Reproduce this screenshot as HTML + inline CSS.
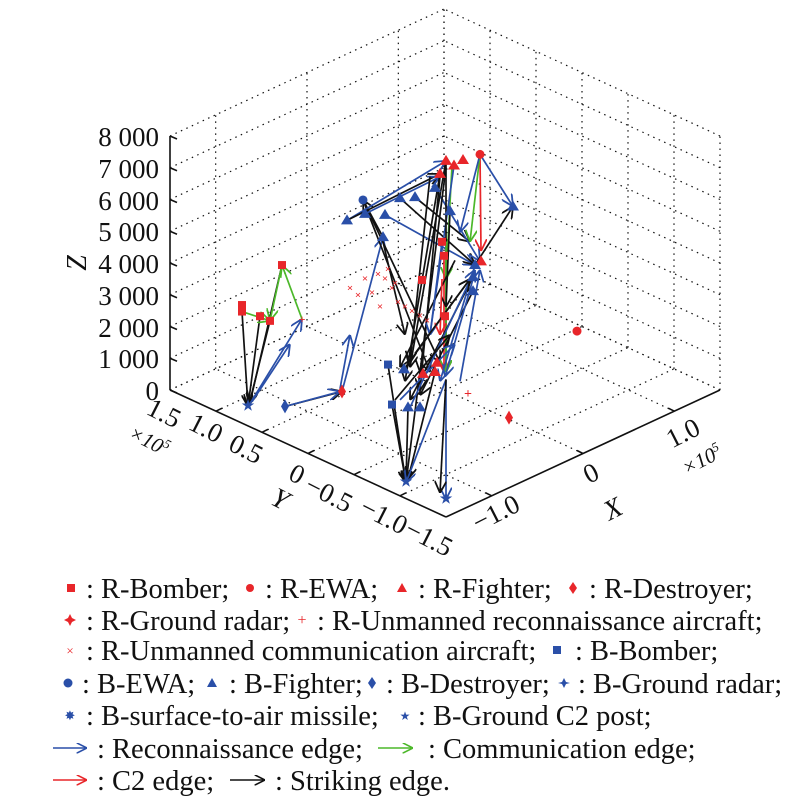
<!DOCTYPE html>
<html><head><meta charset="utf-8"><style>
html,body{margin:0;padding:0;background:#fff;}
svg{display:block;font-family:"Liberation Serif",serif;}
</style></head><body>
<svg id="s" width="800" height="796" viewBox="0 0 800 796" xmlns="http://www.w3.org/2000/svg">
<defs>
<marker id="ab" viewBox="0 0 10 10" refX="10" refY="5" markerWidth="7" markerHeight="7" orient="auto"><path d="M0,0L10,5L0,10" fill="none" stroke="#2a4fa8" stroke-width="1.5"/></marker>
<marker id="ak" viewBox="0 0 10 10" refX="10" refY="5" markerWidth="7" markerHeight="7" orient="auto"><path d="M0,0L10,5L0,10" fill="none" stroke="#111" stroke-width="1.5"/></marker>
<marker id="ag" viewBox="0 0 10 10" refX="10" refY="5" markerWidth="7" markerHeight="7" orient="auto"><path d="M0,0L10,5L0,10" fill="none" stroke="#4cb82a" stroke-width="1.5"/></marker>
<marker id="ar" viewBox="0 0 10 10" refX="10" refY="5" markerWidth="7" markerHeight="7" orient="auto"><path d="M0,0L10,5L0,10" fill="none" stroke="#e8262a" stroke-width="1.5"/></marker>
</defs>
<g id="grid"></g>
<g id="data"></g>
<g font-size="27" fill="#111">
<text x="159" y="146" text-anchor="end">8 000</text>
<text x="159" y="178" text-anchor="end">7 000</text>
<text x="159" y="210" text-anchor="end">6 000</text>
<text x="159" y="241" text-anchor="end">5 000</text>
<text x="159" y="273" text-anchor="end">4 000</text>
<text x="159" y="305" text-anchor="end">3 000</text>
<text x="159" y="337" text-anchor="end">2 000</text>
<text x="159" y="368" text-anchor="end">1 000</text>
<text x="159" y="400" text-anchor="end">0</text>
<text transform="translate(86,263) rotate(-90)" text-anchor="middle" font-style="italic" font-size="28">Z</text>
<text transform="translate(160,421) rotate(27)" text-anchor="middle">1.5</text>
<text transform="translate(202,436) rotate(27)" text-anchor="middle">1.0</text>
<text transform="translate(242,457) rotate(27)" text-anchor="middle">0.5</text>
<text transform="translate(293,482) rotate(27)" text-anchor="middle">0</text>
<text transform="translate(325,502) rotate(27)" text-anchor="middle">−0.5</text>
<text transform="translate(380,524) rotate(27)" text-anchor="middle">−1.0</text>
<text transform="translate(425,546) rotate(27)" text-anchor="middle">−1.5</text>
<text transform="translate(146,447) rotate(27)" text-anchor="middle" font-size="21" font-style="italic">×10<tspan font-size="13" dy="-8">5</tspan></text>
<text transform="translate(276,507) rotate(27)" text-anchor="middle" font-style="italic" font-size="28">Y</text>
<text transform="translate(500,521) rotate(-27)" text-anchor="middle">−1.0</text>
<text transform="translate(595,481) rotate(-27)" text-anchor="middle">0</text>
<text transform="translate(687,441) rotate(-27)" text-anchor="middle">1.0</text>
<text transform="translate(705,466) rotate(-27)" text-anchor="middle" font-size="21" font-style="italic">×10<tspan font-size="13" dy="-8">5</tspan></text>
<text transform="translate(617,517) rotate(-27)" text-anchor="middle" font-style="italic" font-size="28">X</text>
</g>
<g font-size="28.5" fill="#111" id="leg">
<rect x="67" y="584" width="8" height="8" fill="#e8262a"/>
<text x="86" y="598">: R-Bomber;</text>
<circle cx="250" cy="588" r="4" fill="#e8262a"/>
<text x="265" y="598">: R-EWA;</text>
<path d="M402,583L407,592L397,592Z" fill="#e8262a"/>
<text x="418" y="598">: R-Fighter;</text>
<path d="M573,582L577,588L573,594L569,588Z" fill="#e8262a"/>
<text x="589" y="598">: R-Destroyer;</text>

<path d="M70,614L72,618L76,620L72,622L70,626L68,622L64,620L68,618Z" fill="#e8262a"/>
<text x="86" y="630">: R-Ground radar;</text>
<text x="302" y="625" fill="#e8262a" font-size="16" text-anchor="middle">+</text>
<text x="317" y="630">: R-Unmanned reconnaissance aircraft;</text>

<text x="70" y="655" fill="#e8262a" font-size="13" text-anchor="middle">×</text>
<text x="86" y="660">: R-Unmanned communication aircraft;</text>
<rect x="553" y="646" width="8" height="8" fill="#2a4fa8"/>
<text x="575" y="660">: B-Bomber;</text>

<circle cx="68" cy="683" r="4.5" fill="#2a4fa8"/>
<text x="82" y="693">: B-EWA;</text>
<path d="M212,678L217,687L207,687Z" fill="#2a4fa8"/>
<text x="229" y="693">: B-Fighter;</text>
<path d="M372,677L376,683L372,689L368,683Z" fill="#2a4fa8"/>
<text x="386" y="693">: B-Destroyer;</text>
<path d="M564,678L566,682L570,683L566,684L564,688L562,684L558,683L562,682Z" fill="#2a4fa8"/>
<text x="578" y="693">: B-Ground radar;</text>

<text x="70" y="720" fill="#2a4fa8" font-size="13" text-anchor="middle">✸</text>
<text x="86" y="725">: B-surface-to-air missile;</text>
<text x="405" y="720" fill="#2a4fa8" font-size="12" text-anchor="middle">★</text>
<text x="418" y="725">: B-Ground C2 post;</text>

<line x1="53" y1="748" x2="87" y2="748" stroke="#2a4fa8" stroke-width="1.5" marker-end="url(#ab)"/>
<text x="97" y="758">: Reconnaissance edge;</text>
<line x1="378" y1="748" x2="413" y2="748" stroke="#4cb82a" stroke-width="1.5" marker-end="url(#ag)"/>
<text x="428" y="758">: Communication edge;</text>

<line x1="53" y1="780" x2="87" y2="780" stroke="#e8262a" stroke-width="1.5" marker-end="url(#ar)"/>
<text x="97" y="790">: C2 edge;</text>
<line x1="230" y1="780" x2="265" y2="780" stroke="#111" stroke-width="1.5" marker-end="url(#ak)"/>
<text x="275" y="790">: Striking edge.</text>
</g>
</svg>
<script>
var NS="http://www.w3.org/2000/svg";
function el(p,t,a){var e=document.createElementNS(NS,t);for(var k in a)e.setAttribute(k,a[k]);p.appendChild(e);return e;}
var O=[446,517],X=[274,-127],Y=[-276,-127],Z=[0,-254];
function P(a,b,c){return [O[0]+a*X[0]+b*Y[0]+c*Z[0],O[1]+a*X[1]+b*Y[1]+c*Z[1]];}
var g=document.getElementById('grid');
function L(p,q,dot,w){el(g,'line',{x1:p[0],y1:p[1],x2:q[0],y2:q[1],stroke:'#111','stroke-width':w||1.2,'stroke-dasharray':dot?'1.5,4.5':''});}
var xt=[1/6,0.5,5/6,1],yt=[1/6,2/6,3/6,4/6,5/6,1];
xt.forEach(function(a){L(P(a,0,0),P(a,1,0),1);});
yt.forEach(function(b){L(P(0,b,0),P(1,b,0),1);});
for(var i=1;i<=8;i++){var c=i/8;L(P(0,1,c),P(1,1,c),1);L(P(1,0,c),P(1,1,c),1);}
L(P(1,0,0),P(1,1,0),1);L(P(0,1,0),P(1,1,0),1);
xt.forEach(function(a){L(P(a,1,0),P(a,1,1),1);});
[0].concat(yt).forEach(function(b){L(P(1,b,0),P(1,b,1),1);});
L(P(0,1,0),P(0,0,0),0,1.6);L(P(0,0,0),P(1,0,0),0,1.6);L(P(0,1,0),P(0,1,1),0,1.6);
for(var i=0;i<=8;i++){var p=P(0,1,i/8);L(p,[p[0]+7,p[1]+3],0,1.6);}
[1/6,2/6,3/6,4/6,5/6].forEach(function(b){var p=P(0,b,0);L(p,[p[0]+6,p[1]-3],0,1.6);});
[1/6,0.5,5/6].forEach(function(a){var p=P(a,0,0);L(p,[p[0]-6,p[1]-3],0,1.6);});
var d=document.getElementById('data');
var C={b:'#2a4fa8',k:'#111',g:'#4cb82a',r:'#e8262a'};
var S=0.93;
var E=[
['k',242,335,248,437],['k',260,340,248,437],['k',270,345,249,435],['k',282,285,250,433],['b',250,434,302,343],['b',252,432,290,370],
['g',302,343,282,285],['g',282,285,270,345],['g',242,335,270,345],['k',285,437,342,421],['b',285,437,340,421],
['b',342,421,383,255],['b',340,418,350,360],['k',383,255,363,215],['k',363,215,430,400],['k',363,215,440,390],
['b',347,237,446,173],['k',347,237,440,187],['b',365,230,440,190],['b',385,231,475,285],['k',400,213,475,285],
['k',415,212,470,260],['b',435,202,480,281],['k',446,173,410,395],['k',440,187,405,410],['k',446,180,420,400],
['g',452,178,446,300],['b',454,178,430,360],['r',480,166,481,270],['g',480,166,470,260],['b',480,166,513,222],
['k',475,285,513,222],['b',480,166,460,250],['k',446,173,446,400],['r',444,275,444,400],['g',446,260,446,400],
['k',388,392,406,519],['k',392,435,406,519],['k',408,438,406,519],['k',420,400,406,519],['k',435,400,408,515],
['b',446,408,406,519],['b',446,408,446,537],['k',446,408,440,530],['k',473,298,410,430],['k',473,313,420,425],
['b',475,285,440,410],['b',473,300,445,405],['k',455,280,400,395],['k',440,190,420,420],['k',450,227,446,330],
['b',410,438,475,290],['k',404,397,470,300],['k',430,190,410,390],['b',442,260,430,360],['r',442,300,440,360],
['k',415,380,470,300],['b',460,410,480,290],['k',395,430,450,360],['b',400,430,455,370],['k',383,260,405,360]
];
E.forEach(function(e){el(d,'line',{x1:e[1],y1:e[2]*S,x2:e[3],y2:e[4]*S,stroke:C[e[0]],'stroke-width':1.7,'marker-end':'url(#a'+e[0]+')'});});
function tri(x,y,c){y*=S;el(d,'path',{d:'M'+x+','+(y-6)+'L'+(x+6)+','+(y+4)+'L'+(x-6)+','+(y+4)+'Z',fill:c});}
function sq(x,y,c){y*=S;el(d,'rect',{x:x-4,y:y-4,width:8,height:8,fill:c});}
function ci(x,y,c){y*=S;el(d,'circle',{cx:x,cy:y,r:4.5,fill:c});}
function dia(x,y,c){y*=S;el(d,'path',{d:'M'+x+','+(y-7)+'L'+(x+4)+','+y+'L'+x+','+(y+7)+'L'+(x-4)+','+y+'Z',fill:c});}
function txt(x,y,c,s,f){y*=S;var t=el(d,'text',{x:x,y:y,fill:c,'font-size':f||12,'text-anchor':'middle','dominant-baseline':'central','font-weight':'bold'});t.textContent=s;}
var R=C.r,B=C.b;
[[242,335],[260,340],[270,345],[282,285],[242,328],[442,260],[444,275],[422,301],[445,340]].forEach(function(p){sq(p[0],p[1],R);});
[[446,173],[463,172],[454,178],[440,187],[481,281],[423,402],[435,400],[437,390]].forEach(function(p){tri(p[0],p[1],R);});
ci(480,166,R);ci(577,356,R);
dia(509,449,R);dia(342,421,R);
txt(302,343,R,'+');txt(468,424,R,'+',14);
[[350,310],[358,318],[365,300],[372,315],[378,295],[385,300],[392,310],[398,325],[405,330],[412,335],[420,340],[427,345],[388,290],[395,305],[380,330]].forEach(function(p){txt(p[0],p[1],R,'×',11);});
[[383,255],[347,237],[365,230],[385,231],[400,213],[415,212],[435,202],[513,222],[450,227],[475,285],[473,298],[473,313],[404,397],[408,438],[420,438]].forEach(function(p){tri(p[0],p[1],B);});
ci(363,215,B);sq(388,392,B);sq(392,435,B);dia(285,437,B);
txt(248,437,B,'★',14);txt(406,519,B,'★',14);txt(446,537,B,'★',14);
</script>
</body></html>
